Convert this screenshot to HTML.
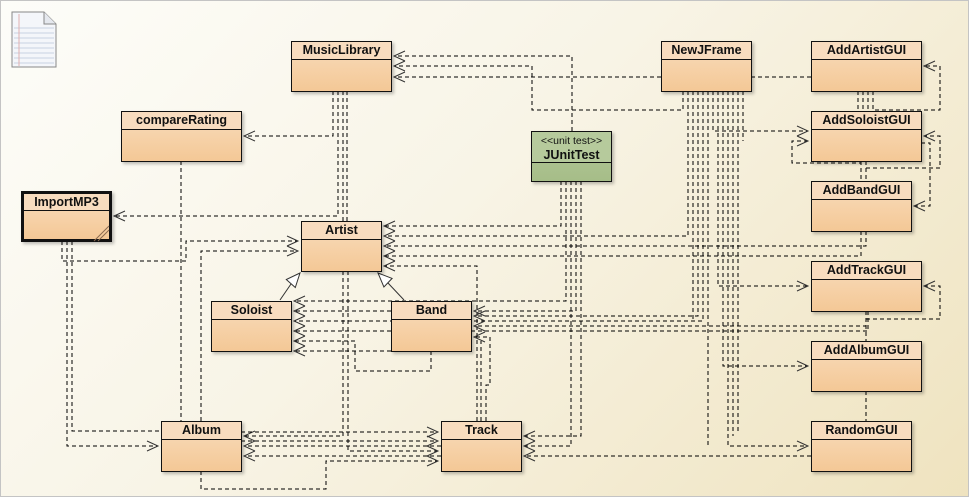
<!DOCTYPE html>
<html><head><meta charset="utf-8"><style>
html,body{margin:0;padding:0}
body{width:969px;height:497px;overflow:hidden;background:linear-gradient(135deg,#fdfdf9 0%,#f8f4e6 45%,#efe3bf 100%);font-family:"Liberation Sans",sans-serif;position:relative}
.fr{position:absolute;left:0;top:0;width:967px;height:495px;border:1px solid #c4c4c4}
svg{position:absolute;left:0;top:0}
.b{position:absolute;border:1.5px solid #111;box-sizing:border-box;background:linear-gradient(#f8dcbc,#f4c896);box-shadow:2px 2px 3px rgba(0,0,0,.25)}
.b .h{height:17px;border-bottom:1.5px solid #111;font-weight:bold;font-size:12.5px;text-align:center;line-height:17px;color:#111;background:#f8dcbf}
.g{background:linear-gradient(#b4c99a,#a6bd88)}
.g .h{background:#b6ca9c;height:31px;line-height:14px;padding-top:1px;box-sizing:border-box}
</style></head><body>
<div class="fr"></div>
<svg width="969" height="497">
<defs>
<marker id="a" markerUnits="userSpaceOnUse" markerWidth="14" markerHeight="12" refX="12" refY="6" orient="auto"><path d="M1,1 L12,6 L1,11" fill="none" stroke="#333" stroke-width="1"/></marker>
</defs>
<g fill="none" stroke="#000" stroke-width="1" stroke-dasharray="4,3">
<path d="M572,131 V56 H394" marker-end="url(#a)"/>
<path d="M683,91 V110 H532 V66 H394" marker-end="url(#a)"/>
<path d="M661,77 H394" marker-end="url(#a)"/>
<path d="M751,77 H811"/>
<path d="M333,91 V136 H244" marker-end="url(#a)"/>
<path d="M338,91 V216 H114" marker-end="url(#a)"/>
<path d="M343,91 V221 M347,91 V221"/>
<path d="M343,271 V436 H244" marker-end="url(#a)"/>
<path d="M348,271 V451 H438" marker-end="url(#a)"/>
<path d="M241,432 H438" marker-end="url(#a)"/>
<path d="M241,441 H438" marker-end="url(#a)"/>
<path d="M441,446 H244" marker-end="url(#a)"/>
<path d="M441,456 H244" marker-end="url(#a)"/>
<path d="M201,471 V489 H326 V461 H438" marker-end="url(#a)"/>
<path d="M62,241 V261 H186 V241 H298" marker-end="url(#a)"/>
<path d="M181,161 V421"/>
<path d="M201,421 V251 H298" marker-end="url(#a)"/>
<path d="M67,241 V446 H158" marker-end="url(#a)"/>
<path d="M72,241 V431 H161"/>
<path d="M561,181 V226 H384" marker-end="url(#a)"/>
<path d="M688,91 V236 H384" marker-end="url(#a)"/>
<path d="M866,231 V246 H384" marker-end="url(#a)"/>
<path d="M861,231 V256 H384" marker-end="url(#a)"/>
<path d="M477,421 V266 H384" marker-end="url(#a)"/>
<path d="M566,181 V301 H294" marker-end="url(#a)"/>
<path d="M391,311 H294" marker-end="url(#a)"/>
<path d="M703,91 V321 H294" marker-end="url(#a)"/>
<path d="M868,311 V331 H294" marker-end="url(#a)"/>
<path d="M431,351 V371 H355 V341 H294" marker-end="url(#a)"/>
<path d="M391,351 H294" marker-end="url(#a)"/>
<path d="M486,421 V385 H490 V337 H474" marker-end="url(#a)"/>
<path d="M481,421 V341"/>
<path d="M576,181 V311 H474" marker-end="url(#a)"/>
<path d="M698,91 V316 H474" marker-end="url(#a)"/>
<path d="M866,311 V326 H474" marker-end="url(#a)"/>
<path d="M693,91 V321"/>
<path d="M581,181 V436 H524" marker-end="url(#a)"/>
<path d="M571,181 V446 H524" marker-end="url(#a)"/>
<path d="M708,91 V446"/>
<path d="M811,456 H524" marker-end="url(#a)"/>
<path d="M713,91 V131 H808" marker-end="url(#a)"/>
<path d="M718,91 V286 H808" marker-end="url(#a)"/>
<path d="M723,91 V366 H808" marker-end="url(#a)"/>
<path d="M728,91 V446 H808" marker-end="url(#a)"/>
<path d="M733,91 V436 M738,91 V431 M743,91 V141"/>
<path d="M858,91 V111 M863,91 V111 M868,91 V111"/>
<path d="M873,91 V110 H940 V66 H924" marker-end="url(#a)"/>
<path d="M866,161 V168 H940 V136 H924" marker-end="url(#a)"/>
<path d="M861,161 V163 H792 V141 H808" marker-end="url(#a)"/>
<path d="M921,143 H930 V206 H914" marker-end="url(#a)"/>
<path d="M861,161 V181 M866,161 V181"/>
<path d="M866,311 V341"/>
<path d="M866,319 H940 V286 H924" marker-end="url(#a)"/>
<path d="M866,391 V421"/>
</g>
<g fill="none" stroke="#333" stroke-width="1">
<path d="M280,300 L291,284"/><path d="M300,273 L295.3,287.5 L286.3,279.5 Z" fill="#fff"/>
<path d="M404,300 L388,283"/><path d="M378,273 L392.1,278.4 L383.9,287 Z" fill="#fff"/>
</g>
<g>
<path d="M12,12 H44 L56,24 V67 H12 Z" fill="#f4f6fa" stroke="#888"/>
<path d="M44,12 V24 H56" fill="#e5e8ee" stroke="#888"/>
<g stroke="#c8d2e2"><path d="M14,28 H54 M14,33 H54 M14,38 H54 M14,43 H54 M14,48 H54 M14,53 H54 M14,58 H54 M14,63 H54"/></g>
<path d="M19,14 V66" stroke="#e0b0b0"/>
</g>
</svg>
<div class="b" style="left:291px;top:41px;width:101px;height:51px"><div class="h">MusicLibrary</div></div>
<div class="b" style="left:121px;top:111px;width:121px;height:51px"><div class="h">compareRating</div></div>
<div class="b" style="left:21px;top:191px;width:91px;height:51px;border-width:3px"><div class="h" style="height:16px;line-height:16px;border-bottom-width:1.5px">ImportMP3</div>
<svg width="20" height="20" style="left:66px;top:28px"><path d="M4,19 L19,4 M8,19 L19,8" stroke="#8a6a50" stroke-width="1"/></svg></div>
<div class="b" style="left:301px;top:221px;width:81px;height:51px"><div class="h">Artist</div></div>
<div class="b" style="left:211px;top:301px;width:81px;height:51px"><div class="h">Soloist</div></div>
<div class="b" style="left:391px;top:301px;width:81px;height:51px"><div class="h">Band</div></div>
<div class="b" style="left:161px;top:421px;width:81px;height:51px"><div class="h">Album</div></div>
<div class="b" style="left:441px;top:421px;width:81px;height:51px"><div class="h">Track</div></div>
<div class="b g" style="left:531px;top:131px;width:81px;height:51px"><div class="h"><span style="font-weight:normal;font-size:10.5px">&lt;&lt;unit test&gt;&gt;</span><br>JUnitTest</div></div>
<div class="b" style="left:661px;top:41px;width:91px;height:51px"><div class="h">NewJFrame</div></div>
<div class="b" style="left:811px;top:41px;width:111px;height:51px"><div class="h">AddArtistGUI</div></div>
<div class="b" style="left:811px;top:111px;width:111px;height:51px"><div class="h">AddSoloistGUI</div></div>
<div class="b" style="left:811px;top:181px;width:101px;height:51px"><div class="h">AddBandGUI</div></div>
<div class="b" style="left:811px;top:261px;width:111px;height:51px"><div class="h">AddTrackGUI</div></div>
<div class="b" style="left:811px;top:341px;width:111px;height:51px"><div class="h">AddAlbumGUI</div></div>
<div class="b" style="left:811px;top:421px;width:101px;height:51px"><div class="h">RandomGUI</div></div>
</body></html>
